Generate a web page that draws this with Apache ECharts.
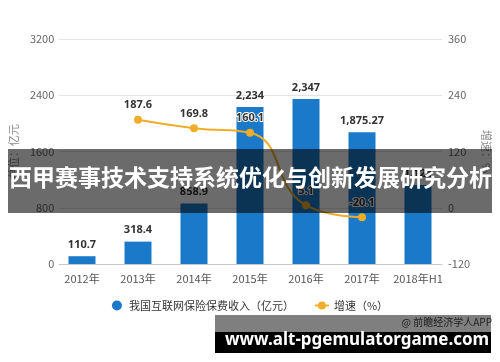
<!DOCTYPE html>
<html><head><meta charset="utf-8">
<script src="https://cdn.jsdelivr.net/npm/echarts@6/dist/echarts.min.js"></script>
<style>html,body{margin:0;padding:0;background:#fff}#c{width:500px;height:362px}</style>
</head><body><div id="c"></div>
<script>
var categories = ['2012年','2013年','2014年','2015年','2016年','2017年','2018年H1'];
var premium = [110.7, 318.4, 858.9, 2234, 2347, 1875.27, 1124];
var growth = [null, 187.6, 169.8, 160.1, 5.1, -20.1, null];
var leftTicks = {min: 0, max: 3200, interval: 800};
var rightTicks = {min: -120, max: 360, interval: 120};

var F = '"Noto Sans CJK SC","Noto Sans",sans-serif';
function fmt(v){
  var s = String(v).split('.');
  s[0] = s[0].replace(/\B(?=(\d{3})+(?!\d))/g, ',');
  return s.join('.');
}
var chart = echarts.init(document.getElementById('c'));
chart.setOption({
  animation: false,
  textStyle: {fontFamily: F},
  grid: [
    {left: 54, right: 54, top: 39, bottom: 98},
    {left: 45, right: 47, top: 39, bottom: 98}
  ],
  legend: {
    top: 295, left: 'center', itemGap: 20, itemWidth: 14, itemHeight: 10,
    textStyle: {fontSize: 11, color: '#333', fontFamily: F},
    data: [{name: '我国互联网保险保费收入（亿元）', icon: 'circle'}, {name: '增速（%）'}]
  },
  xAxis: [
    {type: 'category', gridIndex: 0, data: categories,
     axisLine: {show: false}, axisTick: {show: false},
     axisLabel: {color: '#555', fontSize: 11, margin: 9, interval: 0, fontFamily: F}},
    {type: 'category', gridIndex: 1, data: [''],
     axisLine: {show: true, lineStyle: {color: '#c8c8c8'}}, axisTick: {show: false}, axisLabel: {show: false}}
  ],
  yAxis: [
    {type: 'value', gridIndex: 0, min: leftTicks.min, max: leftTicks.max, interval: leftTicks.interval, show: false},
    {type: 'value', gridIndex: 0, min: rightTicks.min, max: rightTicks.max, interval: rightTicks.interval, show: false, position: 'right'},
    {type: 'value', gridIndex: 1, min: leftTicks.min, max: leftTicks.max, interval: leftTicks.interval,
     name: '单位：亿元', nameLocation: 'middle', nameGap: 34, nameRotate: 90,
     nameTextStyle: {color: '#888', fontSize: 11, fontFamily: F},
     axisLine: {show: false}, axisTick: {show: false},
     axisLabel: {color: '#666', fontSize: 11, margin: 5, fontFamily: F, formatter: function(v){return String(v);}},
     splitLine: {lineStyle: {color: '#e3e3e3'}}},
    {type: 'value', gridIndex: 1, position: 'right', min: rightTicks.min, max: rightTicks.max, interval: rightTicks.interval,
     name: '增速：%', nameLocation: 'middle', nameGap: 37, nameRotate: -90,
     nameTextStyle: {color: '#888', fontSize: 11, fontFamily: F},
     axisLine: {show: false}, axisTick: {show: false},
     axisLabel: {color: '#666', fontSize: 11, margin: 6, fontFamily: F, formatter: function(v){return String(v);}},
     splitLine: {show: false}}
  ],
  series: [
    {name: '我国互联网保险保费收入（亿元）', type: 'bar', xAxisIndex: 0, yAxisIndex: 0, data: premium,
     barWidth: 27, itemStyle: {color: '#1a79c9'},
     label: {show: true, position: 'top', distance: 6, color: '#333', fontWeight: 'bold', fontSize: 11,
             fontFamily: '"Noto Sans",sans-serif', formatter: function(p){return fmt(p.value);}}},
    {name: '增速（%）', type: 'line', xAxisIndex: 0, yAxisIndex: 1, data: growth, smooth: true,
     symbol: 'circle', symbolSize: 8, connectNulls: false,
     lineStyle: {color: '#f0ad2a', width: 2}, itemStyle: {color: '#f0ad2a'},
     label: {show: true, position: 'top', distance: 5, color: '#333', fontWeight: 'bold', fontSize: 11,
             fontFamily: '"Noto Sans",sans-serif', textBorderColor: '#fff', textBorderWidth: 2}}
  ],
  graphic: [
    {type: 'text', right: 8, top: 317, z: 10, style: {text: '@ 前瞻经济学人APP', fill: '#444', font: '10px ' + F}},
    {type: 'rect', z: 20, shape: {x: 8, y: 149, width: 484, height: 64}, style: {fill: 'rgba(0,0,0,0.58)'}},
    {type: 'text', z: 21, left: 9, top: 166, style: {text: '西甲赛事技术支持系统优化与创新发展研究分析', fill: '#fff', font: 'bold 23px ' + F}},
    {type: 'rect', z: 20, shape: {x: 215, y: 315, width: 276, height: 17}, style: {fill: 'rgba(0,0,0,0.5)'}},
    {type: 'rect', z: 20, shape: {x: 215, y: 332, width: 276, height: 21}, style: {fill: '#000'}},
    {type: 'text', z: 21, left: 225, top: 332, style: {text: 'www.alt-pgemulatorgame.com', fill: '#fff', font: 'bold 17px "Noto Sans",sans-serif'}}
  ]
});
</script></body></html>
